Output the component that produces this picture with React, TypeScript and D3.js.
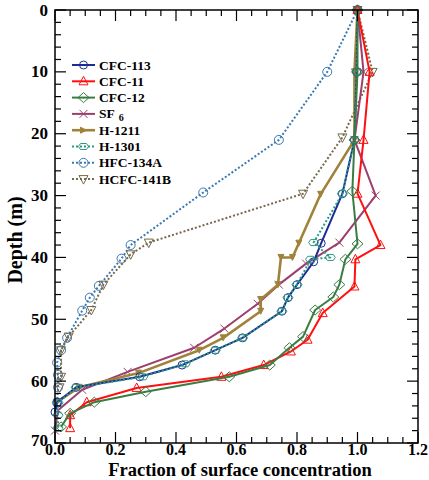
import * as d3 from 'd3';

// ---------------------------------------------------------------------------
// Data (fraction of surface concentration vs depth, m)
// ---------------------------------------------------------------------------

const cfc113Depth = [0, 10, 21, 29.7, 37.7, 40.7, 44.4, 46.5, 48.7, 53, 55, 57.4, 59.3, 61, 63.4, 65];
const cfc113Frac = [1.0, 0.997, 0.99, 0.95, 0.88, 0.855, 0.8, 0.77, 0.75, 0.62, 0.53, 0.42, 0.28, 0.07, 0.007, 0.0];

const cfc11Depth = [0, 10, 21, 29.7, 38, 40.3, 44.7, 49, 53.3, 55.2, 57.4, 59.3, 61.1, 63.4, 65.5, 67.6];
const cfc11Frac = [1.0, 1.04, 1.02, 1.0, 1.076, 0.993, 0.99, 0.885, 0.835, 0.78, 0.69, 0.55, 0.27, 0.105, 0.05, 0.05];

const cfc12Depth = [0, 10, 21, 29.3, 37.8, 40.3, 44.4, 46.4, 48.5, 52.8, 54.6, 57.4, 59.3, 61.7, 63.4, 65.2, 67.4];
const cfc12Frac = [1.0, 1.0, 0.99, 0.983, 1.0, 0.96, 0.94, 0.92, 0.86, 0.82, 0.775, 0.71, 0.576, 0.3, 0.13, 0.05, 0.02];

const sf6Depth = [0, 10, 21, 30, 37.6, 41, 44.4, 47.5, 51.5, 54.6, 58.5, 61.4, 64.7, 68];
const sf6Frac = [1.0, 1.02, 0.99, 1.06, 0.94, 0.83, 0.74, 0.67, 0.56, 0.46, 0.24, 0.09, 0.01, 0.0];

const h1211Depth = [0, 10, 21, 29.8, 37.7, 40, 40, 44.4, 46.8, 48.7, 53, 55, 58.7, 61, 63.4];
const h1211Frac = [1.0, 0.99, 0.99, 0.878, 0.806, 0.785, 0.747, 0.737, 0.68, 0.68, 0.556, 0.477, 0.276, 0.08, 0.005];

const h1301Depth = [0, 10, 21, 29.7, 37.6, 40, 40.3, 44.4, 46.5, 48.7, 53, 55, 57.2, 59.3, 61, 63.5, 65.5, 67.6];
const h1301Frac = [1.0, 0.997, 0.99, 0.95, 0.855, 0.91, 0.845, 0.8, 0.77, 0.75, 0.62, 0.53, 0.43, 0.29, 0.07, 0.01, 0.01, 0.01];

const hfc134aDepth = [0, 10, 21, 29.5, 38, 40.2, 44.6, 46.5, 48.6, 53, 55, 57, 59, 61, 63.5];
const hfc134aFrac = [1.0, 0.9, 0.74, 0.49, 0.25, 0.22, 0.145, 0.115, 0.09, 0.04, 0.02, 0.007, 0.01, 0.01, 0.007];

const hcfc141bDepth = [0, 10, 20.6, 29.7, 37.6, 39.5, 44.4, 48.5, 52.8, 55, 59.3, 61];
const hcfc141bFrac = [1.0, 1.05, 0.95, 0.82, 0.31, 0.25, 0.16, 0.12, 0.045, 0.02, 0.02, 0.015];

const xTickLabels = ['0.0', '0.2', '0.4', '0.6', '0.8', '1.0', '1.2'];
const yTickLabels = ['0', '10', '20', '30', '40', '50', '60', '70'];

// ---------------------------------------------------------------------------
// Layout
// ---------------------------------------------------------------------------

const W = 429;
const H = 480;
const X0 = 55;
const X1 = 418;
const Y0 = 10;
const Y1 = 443;
const FONT = '"Liberation Serif", "Times New Roman", serif';

const x = d3.scaleLinear().domain([0, 1.2]).range([X0, X1]);
const y = d3.scaleLinear().domain([0, 70]).range([Y0, Y1]);

type Marker = 'circle' | 'triUp' | 'triDown' | 'diamond' | 'x' | 'arrow' | 'hex' | 'circleBig';

interface Series {
  name: string;
  depth: number[];
  frac: number[];
  color: string;
  width: number;
  dash?: string;
  marker: Marker;
}

// drawing order: first drawn ends up underneath
const series: Series[] = [
  { name: 'HFC-134A', depth: hfc134aDepth, frac: hfc134aFrac, color: '#3a78b2', width: 2, dash: '2,2', marker: 'circleBig' },
  { name: 'HCFC-141B', depth: hcfc141bDepth, frac: hcfc141bFrac, color: '#76684a', width: 2, dash: '2,2', marker: 'triDown' },
  { name: 'SF6', depth: sf6Depth, frac: sf6Frac, color: '#9c3f6c', width: 2, marker: 'x' },
  { name: 'H-1211', depth: h1211Depth, frac: h1211Frac, color: '#a0823a', width: 2.6, marker: 'arrow' },
  { name: 'CFC-113', depth: cfc113Depth, frac: cfc113Frac, color: '#1c2c96', width: 2, marker: 'circle' },
  { name: 'H-1301', depth: h1301Depth, frac: h1301Frac, color: '#2a9a82', width: 2, dash: '2,2', marker: 'hex' },
  { name: 'CFC-11', depth: cfc11Depth, frac: cfc11Frac, color: '#ff1010', width: 2, marker: 'triUp' },
  { name: 'CFC-12', depth: cfc12Depth, frac: cfc12Frac, color: '#3a7d44', width: 2, marker: 'diamond' },
];

const legendOrder = ['CFC-113', 'CFC-11', 'CFC-12', 'SF6', 'H-1211', 'H-1301', 'HFC-134A', 'HCFC-141B'];

function markerPath(kind: Marker): string {
  switch (kind) {
    case 'triUp':
      return 'M0,-5L4.5,3.5L-4.5,3.5Z';
    case 'triDown':
      return 'M0,5L4.5,-3.5L-4.5,-3.5Z';
    case 'diamond':
      return 'M0,-5L5.5,0L0,5L-5.5,0Z';
    case 'x':
      return 'M-4,-4L4,4M-4,4L4,-4';
    case 'arrow':
      return 'M-3,-3L3,0L-3,3Z';
    case 'hex':
      return 'M-5,0L-3,-3L3,-3L5,0L3,3L-3,3Z';
    default:
      return '';
  }
}

function MarkerShape({ kind, cx, cy, color, rotate = 0 }: { kind: Marker; cx: number; cy: number; color: string; rotate?: number }) {
  if (kind === 'circle' || kind === 'circleBig') {
    return <circle cx={cx} cy={cy} r={kind === 'circleBig' ? 4.5 : 4} fill="none" stroke={color} strokeWidth={1} />;
  }
  const filled = kind === 'arrow';
  return (
    <path
      d={markerPath(kind)}
      transform={`translate(${cx},${cy}) rotate(${rotate})`}
      fill={filled ? color : 'none'}
      stroke={color}
      strokeWidth={1}
    />
  );
}

export default function App() {
  const line = d3
    .line<[number, number]>()
    .x((d) => x(d[0]))
    .y((d) => y(d[1]));

  const xMinor = d3.range(0, 1.2001, 0.05);
  const yMinor = d3.range(0, 70.001, 2);

  return (
    <svg
      width={W}
      height={H}
      style={{ position: 'absolute', left: 0, top: 0, background: '#fff', fontFamily: FONT, fontWeight: 'bold' }}
    >
      {/* series */}
      {series.map((s) => {
        const pts: [number, number][] = s.frac.map((f, i) => [f, s.depth[i]]);
        return (
          <g key={s.name}>
            <path d={line(pts) ?? ''} fill="none" stroke={s.color} strokeWidth={s.width} strokeDasharray={s.dash} strokeLinejoin="round" />
            {pts.map((p, i) => (
              <MarkerShape key={i} kind={s.marker} cx={x(p[0])} cy={y(p[1])} color={s.color} rotate={s.marker === 'arrow' ? 90 : 0} />
            ))}
          </g>
        );
      })}

      {/* frame */}
      <rect x={X0} y={Y0} width={X1 - X0} height={Y1 - Y0} fill="none" stroke="#000" strokeWidth={1.5} />

      {/* x ticks, top and bottom, pointing inwards */}
      {xMinor.map((v, i) => {
        const len = i % 4 === 0 ? 11 : 6;
        return (
          <g key={`xt${i}`} stroke="#000" strokeWidth={1.2}>
            <line x1={x(v)} x2={x(v)} y1={Y1} y2={Y1 - len} />
            <line x1={x(v)} x2={x(v)} y1={Y0} y2={Y0 + len} />
          </g>
        );
      })}
      {/* y ticks, left and right */}
      {yMinor.map((v, i) => {
        const len = v % 10 === 0 ? 11 : 6;
        return (
          <g key={`yt${i}`} stroke="#000" strokeWidth={1.2}>
            <line x1={X0} x2={X0 + len} y1={y(v)} y2={y(v)} />
            <line x1={X1} x2={X1 - len} y1={y(v)} y2={y(v)} />
          </g>
        );
      })}

      {/* tick labels */}
      {xTickLabels.map((t) => (
        <text key={t} x={x(+t)} y={455} textAnchor="middle" fontSize={16}>
          {t}
        </text>
      ))}
      {yTickLabels.map((t) => (
        <text key={t} x={X0 - 7} y={y(+t) + (t === '70' ? 3 : 5.5)} textAnchor="end" fontSize={17}>
          {t}
        </text>
      ))}

      {/* axis titles */}
      <text x={240} y={475.5} textAnchor="middle" fontSize={18.5}>
        Fraction of surface concentration
      </text>
      <text transform="translate(22,240) rotate(-90)" textAnchor="middle" fontSize={20}>
        Depth (m)
      </text>

      {/* legend */}
      {legendOrder.map((name, i) => {
        const s = series.find((d) => d.name === name)!;
        const ly = 65 + i * 16.3;
        return (
          <g key={name}>
            <line x1={72} x2={95} y1={ly} y2={ly} stroke={s.color} strokeWidth={s.width} strokeDasharray={s.dash} />
            <MarkerShape kind={s.marker} cx={83.5} cy={ly} color={s.color} />
            <text x={99} y={ly + 4.5} fontSize={13.5}>
              {name === 'SF6' ? (
                <>
                  SF
                  <tspan dx={4} dy={2.5} fontSize={10}>
                    6
                  </tspan>
                </>
              ) : (
                name
              )}
            </text>
          </g>
        );
      })}
    </svg>
  );
}
